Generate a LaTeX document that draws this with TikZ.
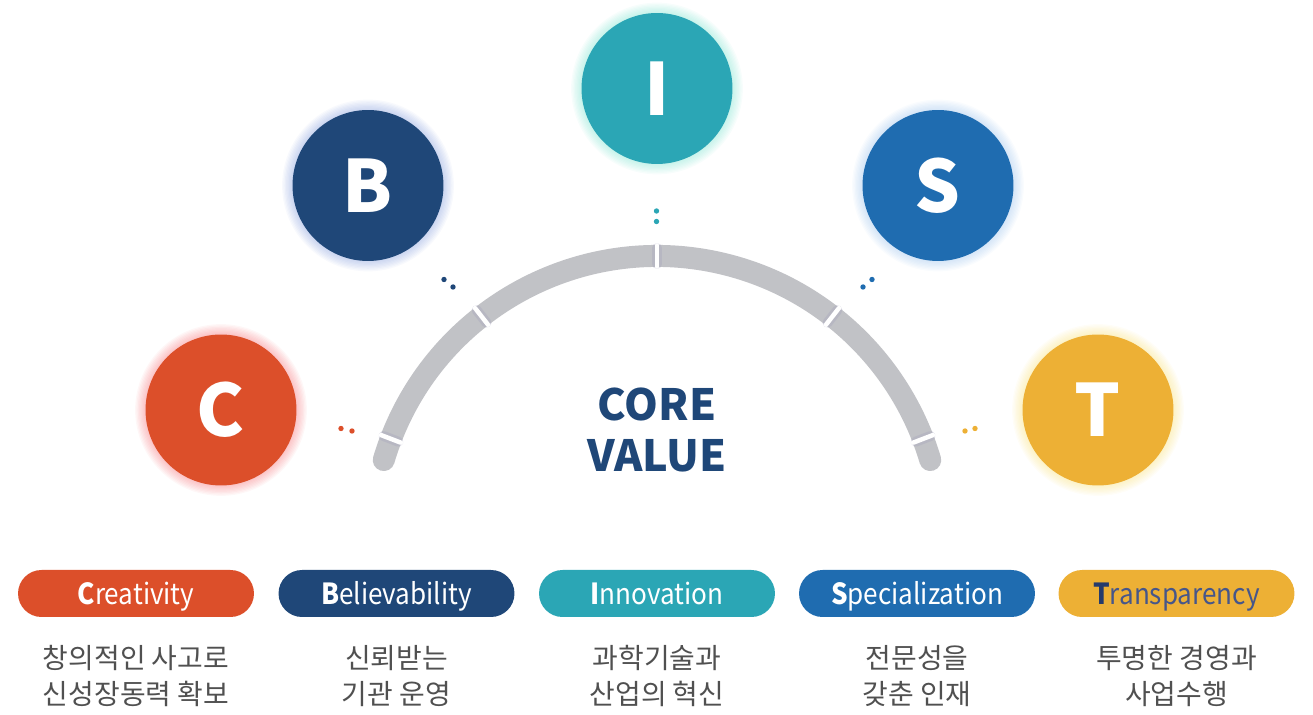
\documentclass[tikz,border=0pt]{standalone}
\usepackage{fontspec}
\setmainfont{Noto Sans CJK KR}
\usetikzlibrary{positioning}

\definecolor{cvred}{HTML}{DC4F2A}
\definecolor{cvnavy}{HTML}{1F4778}
\definecolor{cvteal}{HTML}{2BA6B5}
\definecolor{cvblue}{HTML}{1F6CB0}
\definecolor{cvyellow}{HTML}{EDB035}
\definecolor{arcgray}{HTML}{C1C2C6}
\definecolor{tickshade}{HTML}{9A98B8}
\definecolor{desctext}{HTML}{505050}
\definecolor{tnavy}{HTML}{263B6C}
\definecolor{tblue}{HTML}{46568A}
\definecolor{glowred}{HTML}{F2424A}
\definecolor{glownavy}{HTML}{5A7BD0}
\definecolor{glowteal}{HTML}{4FD8BE}
\definecolor{glowblue}{HTML}{7AAEE6}
\definecolor{glowyellow}{HTML}{F6D64C}

% weicher Schein um die Kreise
\newcommand{\glowring}[2]{%
  \foreach \k in {1,...,8}
    \fill[#2, opacity=0.045] (#1) circle[radius={1.51cm+\k*0.026cm}];}

\begin{document}
\begin{tikzpicture}[x=0.02cm, y=-0.02cm,
    valuecircle/.style={circle, fill=#1, minimum size=3.02cm, inner sep=0pt,
      text=white, font=\fontsize{41}{41}\selectfont\bfseries},
    pill/.style={rectangle, rounded corners=0.47cm, fill=#1, minimum width=4.72cm,
      minimum height=0.94cm, inner sep=0pt, text=white, text height=13pt,
      text depth=0.6pt, font=\fontsize{16.5}{16.5}\selectfont\addfontfeature{FakeStretch=0.9}},
    desc/.style={align=center, inner sep=0pt, text=desctext,
      font=\fontsize{15.9}{20.4}\selectfont},
    band/.style={arcgray, line width=0.44cm, line cap=round},
    tickshadow/.style={tickshade, line width=0.2cm, opacity=0.25, line cap=round},
    tickmark/.style={white, line width=0.09cm, line cap=round},
  ]
  \useasboundingbox (0,0) rectangle (1313,715);

  % Bogen
  \coordinate (mid) at (657,541);
  \draw[band] ([shift={(-163.5:285)}]mid) arc[start angle=-163.5, end angle=-16.5, radius=285];
  \foreach \a in {159,128,90,52,21}{
    \draw[tickshadow] ([shift={(-\a:277)}]mid) -- ([shift={(-\a:293)}]mid);
    \draw[tickmark] ([shift={(-\a:274.5)}]mid) -- ([shift={(-\a:295.5)}]mid);
  }

  \node[font=\fontsize{24.5}{29}\selectfont\bfseries, text=cvnavy, align=center]
    (core) at (657,430) {CORE\\VALUE};

  % Kreise
  \coordinate (posC) at (221,410);
  \coordinate (posB) at (368,185.5);
  \coordinate (posI) at (657,88.5);
  \coordinate (posS) at (938,185.5);
  \coordinate (posT) at (1098,410);
  \glowring{posC}{glowred}
  \glowring{posB}{glownavy}
  \glowring{posI}{glowteal}
  \glowring{posS}{glowblue}
  \glowring{posT}{glowyellow}
  \node[valuecircle=cvred] (cC) at (posC) {C};
  \node[valuecircle=cvnavy] (cB) at (posB) {B};
  \node[valuecircle=cvteal] (cI) at (posI) {I};
  \node[valuecircle=cvblue] (cS) at (posS) {S};
  \node[valuecircle=cvyellow] (cT) at (posT) {T};

  % Punkte
  \fill[cvred] (341,428.5) circle[radius=2.7] (352,431) circle[radius=2.7];
  \fill[cvnavy] (444,279.5) circle[radius=2.7] (453,287) circle[radius=2.7];
  \fill[cvteal] (656.5,211) circle[radius=2.7] (656.5,221.5) circle[radius=2.7];
  \fill[cvblue] (863,287) circle[radius=2.7] (872,279.5) circle[radius=2.7];
  \fill[cvyellow] (965,431) circle[radius=2.7] (975,428.5) circle[radius=2.7];

  % Beschriftungen unten
  \node[pill=cvred] (pC) at (136,593.5) {\textbf{C}reativity};
  \node[pill=cvnavy] (pB) at (396.5,593.5) {\textbf{B}elievability};
  \node[pill=cvteal] (pI) at (657,593.5) {\textbf{I}nnovation};
  \node[pill=cvblue] (pS) at (917,593.5) {\textbf{S}pecialization};
  \node[pill=cvyellow, text=tblue] (pT) at (1176.5,593.5) {\textbf{\color{tnavy}T}ransparency};

  \node[desc, below=0.56cm of pC] (dC) {창의적인 사고로\\신성장동력 확보};
  \node[desc, below=0.56cm of pB] (dB) {신뢰받는\\기관 운영};
  \node[desc, below=0.56cm of pI] (dI) {과학기술과\\산업의 혁신};
  \node[desc, below=0.56cm of pS] (dS) {전문성을\\갖춘 인재};
  \node[desc, below=0.56cm of pT] (dT) {투명한 경영과\\사업수행};
\end{tikzpicture}
\end{document}
